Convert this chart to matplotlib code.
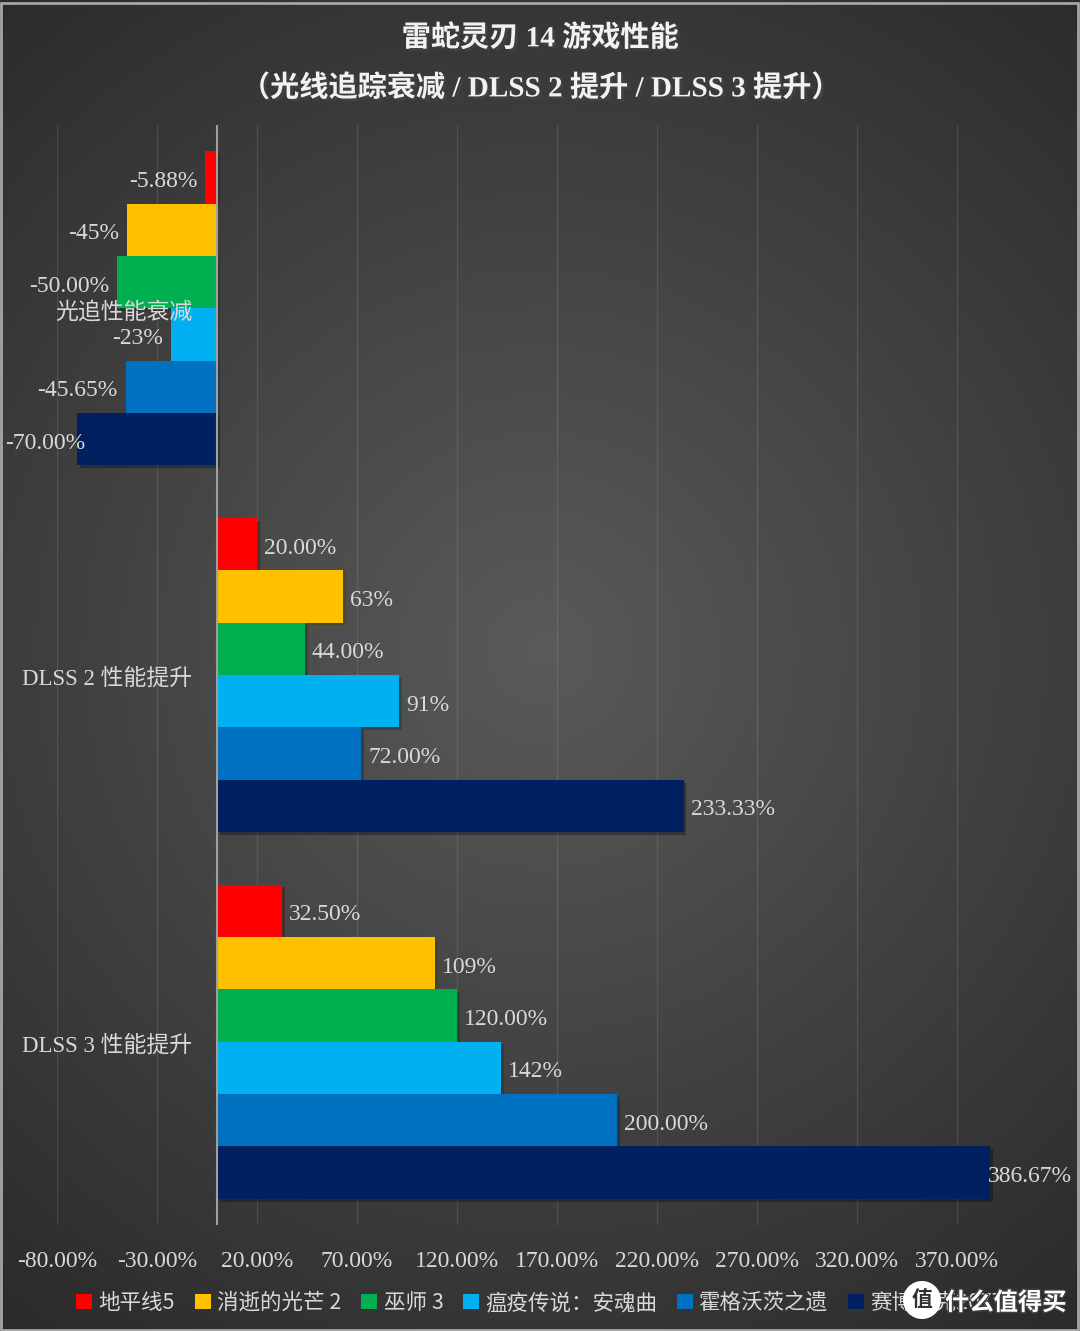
import numpy as np
import matplotlib.pyplot as plt
import matplotlib.patheffects as pe
from matplotlib.patches import Patch, Rectangle, Ellipse

# Data
categories = ['光追性能衰减', 'DLSS 2 性能提升', 'DLSS 3 性能提升']
games = ['地平线5', '消逝的光芒 2', '巫师 3', '瘟疫传说：安魂曲', '霍格沃茨之遗', '赛博朋克2077']
colors = ['#FF0000', '#FFC000', '#00B050', '#00B0F0', '#0070C0', '#002060']

horizon5 = [-5.88, 20.00, 32.50]
dying_light2 = [-45, 63, 109]
witcher3 = [-50.00, 44.00, 120.00]
plague_tale = [-23, 91, 142]
hogwarts = [-45.65, 72.00, 200.00]
cyberpunk = [-70.00, 233.33, 386.67]
series = [horizon5, dying_light2, witcher3, plague_tale, hogwarts, cyberpunk]
decimals = [2, 0, 2, 0, 2, 2]

xticks = [-80, -30, 20, 70, 120, 170, 220, 270, 320, 370]

title1 = '雷蛇灵刃 14 游戏性能'
title2 = '（光线追踪衰减 / DLSS 2 提升 / DLSS 3 提升）'

SERIF = ['Liberation Serif', 'Noto Sans CJK SC']
SANS = ['Noto Sans CJK SC', 'DejaVu Sans']
TXT = '#D9D9D9'

W, H = 1080, 1331
fig = plt.figure(figsize=(W / 100, H / 100), dpi=100)

# Background: radial gradient like the Excel chart area
bg = fig.add_axes([0, 0, 1, 1], zorder=-10)
yy, xx = np.mgrid[0:H, 0:W]
dist = np.hypot(xx - 540, yy - 650) / 870.0
shade = np.clip(90 - 48 * dist, 38, 95) / 255.0
bg.imshow(np.dstack([shade] * 3), extent=[0, 1, 0, 1], aspect='auto', origin='upper')
bg.set_axis_off()
fig.patches.append(Rectangle((0.001, 0.001), 0.997, 0.997, transform=fig.transFigure,
                             fill=False, edgecolor='#A6A6A6', lw=2))

# Plot
ax = fig.add_axes([57 / W, 1 - 1225 / H, 990 / W, 1100 / H])
ax.set_facecolor('none')

n = len(series)
bar_h = 1 / (n + 1)
y = np.arange(len(categories))
shadow = [pe.SimplePatchShadow(offset=(2, -2), alpha=0.35), pe.Normal()]
anns = []
for i, (vals, col, dec) in enumerate(zip(series, colors, decimals)):
    pos = y + (i - (n - 1) / 2) * bar_h
    bars = ax.barh(pos, vals, height=bar_h, color=col, zorder=2)
    for b in bars:
        b.set_path_effects(shadow)
    for p, v in zip(pos, vals):
        off = 7 if v >= 0 else -8
        a = ax.annotate(f'{v:.{dec}f}%', (v, p), xytext=(off, -4), textcoords='offset pixels',
                        ha='left' if v >= 0 else 'right', va='center',
                        fontsize=17, color=TXT, family=SERIF, zorder=5)
        anns.append(a)

ax.set_xlim(-80, 415)
ax.set_ylim(2.5, -0.5)

# Category axis sits on 0, its labels drawn above the bars
ax.axvline(0, color='#A0A0A0', lw=1.5, zorder=3)
for s in ax.spines.values():
    s.set_visible(False)
ax.set_yticks([])
for yi, cat in zip(y, categories):
    ax.annotate(cat, (0, yi), xytext=(-25, -4), textcoords='offset pixels', ha='right',
                va='center', fontsize=16.5, color=TXT, family=SERIF, zorder=6)

ax.set_xticks(xticks)
ax.set_xticklabels([f'{t:.2f}%' for t in xticks], family=SERIF, fontsize=17, color=TXT)
ax.tick_params(axis='x', length=0, pad=19)
ax.grid(True, axis='x', color='white', alpha=0.1, lw=1)
ax.set_axisbelow(True)

# Titles
for t, yp in [(title1, 38), (title2, 88)]:
    fig.text(0.5, 1 - yp / H, t, ha='center', va='center', fontsize=21, fontweight='bold',
             color='#F2F2F2', family=SERIF,
             path_effects=[pe.SimplePatchShadow(offset=(2, -2), alpha=0.5), pe.Normal()])

# Legend
handles = [Patch(facecolor=c, edgecolor='none') for c in colors]
fig.legend(handles, games, loc='center', bbox_to_anchor=(0.5, 1 - 1303 / H), ncol=6,
           frameon=False, prop={'family': SANS, 'size': 15.5}, labelcolor=TXT,
           handlelength=0.75, handleheight=0.75, handletextpad=0.3, columnspacing=0.9)

# Keep data labels inside the chart area
fig.canvas.draw()
r = fig.canvas.get_renderer()
for a in anns:
    bb = a.get_window_extent(r)
    dx = 0
    if bb.x0 < 5:
        dx = 5 - bb.x0
    elif bb.x1 > W - 8:
        dx = (W - 8) - bb.x1
    if dx:
        ox, oy = a.xyann
        a.xyann = (ox + dx, oy)

# Site watermark (covers part of the last legend entry, as in the source image)
fig.patches.append(Ellipse((922 / W, 1 - 1300 / H), 38 / W, 38 / H, transform=fig.transFigure,
                           facecolor='white', edgecolor='none', zorder=20))
fig.text(922 / W, 1 - 1300 / H, '值', ha='center', va='center', fontsize=15, fontweight='bold',
         color='#303030', family=SANS, zorder=21)
fig.text(945 / W, 1 - 1303 / H, '什么值得买', ha='left', va='center', fontsize=17.5,
         fontweight='bold', color='white', family=SANS, zorder=21,
         path_effects=[pe.withStroke(linewidth=2, foreground='#404040')])

fig.savefig('out.png', dpi=100)
